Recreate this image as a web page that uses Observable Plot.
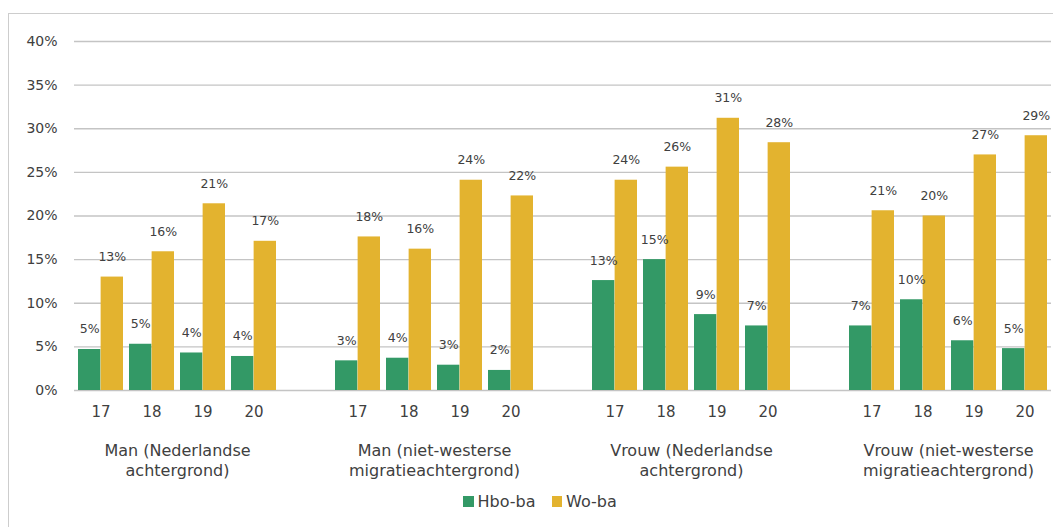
<!DOCTYPE html>
<html><head><meta charset="utf-8">
<script src="https://cdn.jsdelivr.net/npm/d3@7"></script>
<script src="https://cdn.jsdelivr.net/npm/@observablehq/plot@0.6"></script>
<style>
body{margin:0;background:#fff;font-family:"DejaVu Sans",sans-serif;overflow:hidden;}
#frame{position:absolute;left:8px;top:13px;width:1200px;height:700px;border-left:1px solid #cdcdcd;border-top:1px solid #cdcdcd;}
#chart{position:absolute;left:0;top:0;width:1053px;height:485px;}
#chart svg{position:absolute;left:0;top:0;}
#legend{position:absolute;left:463px;top:492px;display:flex;align-items:center;font-size:16px;color:#404040;white-space:nowrap;}
#legend .sw{display:inline-block;width:10.5px;height:10.5px;margin-right:4px;}
#legend .item{display:flex;align-items:center;margin-right:16px;}
</style></head><body>
<div id="frame"></div>
<div id="chart"></div>
<div id="legend"></div>
<script>
const groups = ["Man (Nederlandse\nachtergrond)", "Man (niet-westerse\nmigratieachtergrond)", "Vrouw (Nederlandse\nachtergrond)", "Vrouw (niet-westerse\nmigratieachtergrond)"];
const ages = ["17", "18", "19", "20"];
const seriesNames = ["Hbo-ba", "Wo-ba"];
const seriesColors = ["#339966", "#E3B32F"];
const hboValues = [
  [4.7, 5.3, 4.3, 3.9],
  [3.4, 3.7, 2.9, 2.3],
  [12.6, 15.0, 8.7, 7.4],
  [7.4, 10.4, 5.7, 4.8]
];
const woValues = [
  [13.0, 15.9, 21.4, 17.1],
  [17.6, 16.2, 24.1, 22.3],
  [24.1, 25.6, 31.2, 28.4],
  [20.6, 20.0, 27.0, 29.2]
];
const yTicks = [0, 5, 10, 15, 20, 25, 30, 35, 40];

const rows = [];
groups.forEach((g, gi) => ages.forEach((a, ai) => {
  rows.push({group: g, age: a, series: seriesNames[0], value: hboValues[gi][ai]});
  rows.push({group: g, age: a, series: seriesNames[1], value: woValues[gi][ai]});
}));
const ageRows = [];
groups.forEach(g => ages.forEach(a => ageRows.push({group: g, age: a})));
const hbo = rows.filter(d => d.series === seriesNames[0]);
const wo = rows.filter(d => d.series === seriesNames[1]);

const W = 1053, H = 485, mL = 74, mR = 2, mT = 41, mB = 95;
const fxPad = 0.2, xPadIn = 0.12, xPadOut = 0.06;
const slot = (W - mL - mR) / (groups.length * ages.length + groups.length - 1);
const half = slot * (1 - xPadIn) / 2;
const txt = "#404040";
const common = {
  width: W, height: H,
  marginLeft: mL, marginRight: mR, marginTop: mT, marginBottom: mB,
  style: {fontFamily: "DejaVu Sans, sans-serif", color: txt, background: "transparent", overflow: "visible"}
};

// background: y axis and continuous gridlines
const grid = Plot.plot({
  ...common,
  style: {...common.style, fontSize: "14px"},
  x: {axis: null},
  y: {domain: [0, 40], ticks: yTicks, tickFormat: d => d + "%", label: null, tickSize: 0, tickPadding: 17},
  marks: [
    Plot.ruleY(yTicks, {stroke: "#c4c4c4", strokeWidth: 1.3})
  ]
});

// foreground: faceted bars
const bars = Plot.plot({
  ...common,
  fx: {domain: groups, paddingInner: fxPad, paddingOuter: 0, axis: null, label: null},
  x: {domain: ages, paddingInner: xPadIn, paddingOuter: xPadOut, axis: null, label: null},
  y: {domain: [0, 40], axis: null},
  marks: [
    Plot.barY(hbo, {fx: "group", x: "age", y: "value", fill: seriesColors[0], insetRight: half}),
    Plot.barY(wo, {fx: "group", x: "age", y: "value", fill: seriesColors[1], insetLeft: half}),
    Plot.text(hbo, {fx: "group", x: "age", y: "value", text: d => Math.round(d.value) + "%", dx: -half / 2, dy: -20, fontSize: 12.5, fill: txt}),
    Plot.text(wo, {fx: "group", x: "age", y: "value", text: d => Math.round(d.value) + "%", dx: half / 2, dy: -20, fontSize: 12.5, fill: txt}),
    Plot.text(ageRows, {fx: "group", x: "age", text: "age", frameAnchor: "bottom", lineAnchor: "middle", dy: 22, fontSize: 15, fill: txt}),
    Plot.text(groups, {fx: d => d, text: d => d, frameAnchor: "bottom", lineAnchor: "middle", dy: 69, fontSize: 16, lineHeight: 1.25, fill: txt})
  ]
});
const holder = document.getElementById("chart");
holder.appendChild(grid);
holder.appendChild(bars);

const legend = document.getElementById("legend");
seriesNames.forEach((s, i) => {
  const item = document.createElement("span");
  item.className = "item";
  const sw = document.createElement("span");
  sw.className = "sw";
  sw.style.background = seriesColors[i];
  item.appendChild(sw);
  item.appendChild(document.createTextNode(s));
  legend.appendChild(item);
});
</script>
</body></html>
